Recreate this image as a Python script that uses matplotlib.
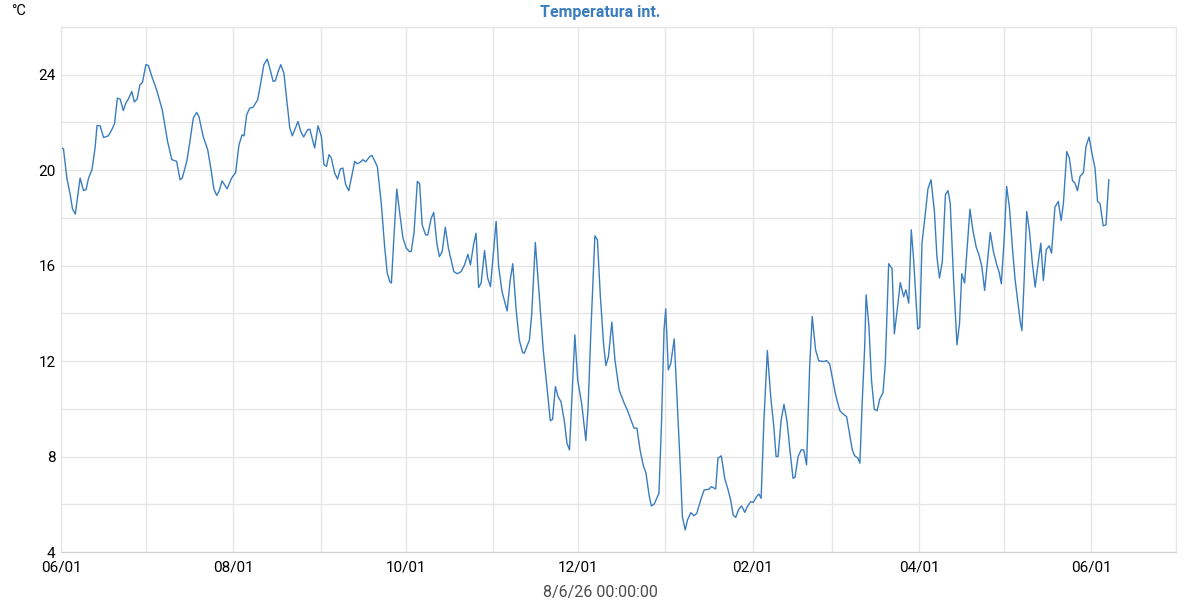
import numpy as np
import pandas as pd
import matplotlib
matplotlib.use("Agg")
import matplotlib.pyplot as plt
import matplotlib.dates as mdates
from matplotlib.ticker import MultipleLocator

plt.rcParams['font.family'] = ['Roboto', 'DejaVu Sans']

# days since 2025-06-01
days = [
    0.0, 0.8, 2.0, 3.2, 4.0, 5.0, 6.7, 7.9, 8.8, 9.7, 10.9, 12.0, 12.7, 13.8, 15.0,
    16.7, 17.9, 18.9, 19.9, 20.9, 22.0, 22.9, 23.8, 25.0, 25.9, 26.9, 27.9, 28.8,
    30.0, 30.9, 32.1, 33.8, 35.8, 37.7, 39.2, 40.9, 42.1, 42.9, 44.5, 45.6,
    46.8, 48.0, 48.8, 50.3, 51.9, 53.1, 54.1, 55.1, 55.9, 57.0, 58.8, 60.4, 61.8,
    63.0, 64.1, 64.8, 65.7, 66.8, 68.0, 69.6, 70.7, 71.8, 73.0, 73.9, 75.1, 75.9,
    76.9, 77.8, 78.9, 79.9, 81.0, 81.9, 83.9, 84.9, 85.9, 87.3, 88.1, 89.8, 91.0,
    92.2, 93.1, 94.0, 94.9, 95.7, 96.9, 97.9, 98.9, 99.8, 100.8, 101.9, 104.0,
    104.8, 105.8, 106.9, 107.9, 109.3, 110.1, 112.0, 113.4, 114.6, 115.5, 116.4,
    117.0, 117.9, 118.9, 120.1, 121.1, 122.3, 123.4, 124.0, 125.0, 126.2, 127.0,
    127.9, 129.1, 129.9, 131.1, 132.0, 133.1, 134.0, 135.0, 136.1,
    137.2, 138.4, 139.1, 140.3, 141.7, 142.9, 144.1, 145.0, 146.1, 147.0, 147.9,
    148.8, 150.0, 151.1, 152.1, 154.1, 155.0, 156.2, 158.0, 159.1, 160.0, 161.2,
    162.3, 163.5, 164.1, 165.9, 166.7, 168.0, 169.4, 170.8, 172.1, 173.3, 174.1,
    175.1, 176.1, 177.1, 178.3, 179.2, 180.1, 182.0,
    183.0, 184.4, 185.9, 186.7, 187.7, 189.1, 190.0, 191.0, 192.2, 193.0, 193.9,
    195.1, 196.2, 197.7, 199.5, 200.6, 202.1, 203.0, 204.0, 205.1, 206.2, 207.2,
    208.3, 209.1, 210.1, 211.8, 212.7, 213.6, 214.2, 215.1, 216.0, 217.2, 218.3,
    219.3, 220.1, 221.1, 221.9, 223.1, 224.2, 225.2, 226.6, 227.8, 229.5,
    230.4, 231.9, 232.7, 233.9, 235.1, 236.3, 237.2, 238.1, 239.0, 240.1, 241.1,
    242.2, 243.1, 244.3, 245.2, 246.4, 247.2, 248.0, 249.0, 250.2, 251.4, 252.5,
    253.3, 254.0, 255.1, 256.1, 257.2, 258.2, 259.3, 260.0, 261.1, 262.2, 263.1,
    264.1, 265.2, 266.1, 267.3, 268.4, 270.2, 271.2, 272.3, 274.4,
    275.9, 276.7, 278.3, 279.1, 280.3, 281.1, 282.3, 283.0, 283.8, 284.7, 285.2,
    286.2, 287.1, 288.1, 289.1, 290.0, 291.2, 292.0, 293.2, 294.4, 295.2, 296.5,
    297.3, 298.5, 299.3, 300.3, 301.2, 302.0, 303.5, 304.2, 305.0, 306.2, 307.1,
    308.2, 309.4, 310.3, 311.2, 312.2, 313.3, 314.2, 315.0, 316.2, 317.4, 318.3,
    319.1, 320.1, 321.1, 322.0, 323.0, 324.2, 325.3, 326.2, 327.2, 328.2, 329.2,
    330.3, 331.5, 332.4, 333.1, 334.1, 335.0, 336.0, 337.1, 338.0, 339.0, 339.8,
    340.4, 341.2, 342.1, 343.1, 344.1, 345.1, 346.3, 347.1, 348.0, 349.0, 350.1,
    350.9, 352.1, 353.3, 354.3, 355.1, 356.3, 357.2, 358.3, 359.2, 360.1, 361.0,
    362.2, 363.1, 364.2, 365.1, 366.3, 367.2, 368.1, 369.2, 370.2, 371.2,
]

temps = [
    20.93, 20.9, 19.67, 18.97, 18.38, 18.16, 19.67, 19.15, 19.18, 19.67, 20.02, 20.93, 21.87, 21.86, 21.37,
    21.44, 21.69, 21.95, 23.02, 22.98, 22.5, 22.81, 22.98, 23.3, 22.86, 22.98, 23.58, 23.68,
    24.42, 24.39, 23.93, 23.37, 22.53, 21.2, 20.44, 20.37, 19.6, 19.67, 20.37, 21.2,
    22.18, 22.42, 22.25, 21.41, 20.86, 20.02, 19.21, 18.94, 19.11, 19.55, 19.22, 19.67, 19.9,
    21.07, 21.48, 21.44, 22.32, 22.6, 22.64, 22.95, 23.65, 24.42, 24.65, 24.28, 23.72, 23.75,
    24.14, 24.42, 24.07, 22.95, 21.76, 21.44, 22.04, 21.62, 21.39, 21.69, 21.72, 20.93, 21.86,
    21.41, 20.23, 20.16, 20.65, 20.51, 19.88, 19.63, 20.05, 20.09, 19.39, 19.14, 20.37,
    20.27, 20.32, 20.44, 20.35, 20.57, 20.62, 20.16, 18.62, 16.8, 15.71, 15.33,
    15.27, 17.22, 19.21, 18.06, 17.15, 16.73, 16.59, 16.59, 17.36, 19.53, 19.43,
    17.71, 17.29, 17.29, 17.99, 18.23, 16.94, 16.38, 16.59, 17.61,
    16.73, 16.1, 15.75, 15.66, 15.75, 16.03, 16.48, 16.03, 16.87, 17.36, 15.08,
    15.27, 16.63, 15.48, 15.12, 17.85, 15.96, 14.91, 14.1, 15.4, 16.08, 14.15,
    12.89, 12.36, 12.33, 12.89, 13.94, 16.97, 14.7, 12.47, 10.93, 9.5, 9.56,
    10.93, 10.49, 10.3, 9.46, 8.56, 8.28, 13.1,
    11.21, 10.23, 8.67, 10.09, 13.31, 17.25, 17.08, 14.78, 12.68, 11.81, 12.19,
    13.63, 12.05, 10.79, 10.23, 9.95, 9.46, 9.19, 9.19, 8.28, 7.65, 7.3,
    6.39, 5.93, 6.01, 6.46, 9.4, 13.31, 14.19, 11.63, 11.91, 12.93, 10.23,
    7.72, 5.48, 4.92, 5.34, 5.65, 5.52, 5.62, 6.18, 6.6, 6.63,
    6.74, 6.64, 7.93, 8.03, 7.09, 6.6, 6.18, 5.55, 5.45, 5.8, 5.93,
    5.66, 5.9, 6.11, 6.08, 6.32, 6.43, 6.25, 9.53, 12.44, 10.51, 9.25,
    8.0, 8.0, 9.53, 10.19, 9.46, 8.28, 7.09, 7.13, 8.0, 8.28, 8.28,
    7.65, 11.77, 13.87, 12.47, 12.01, 11.98, 12.02, 11.88, 10.58,
    9.92, 9.82, 9.67, 9.12, 8.28, 8.04, 7.93, 7.72, 10.23, 12.61, 14.78,
    13.45, 11.21, 9.98, 9.92, 10.4, 10.68, 11.91, 16.08, 15.87, 13.14, 14.43,
    15.29, 14.7, 14.99, 14.43, 17.5, 16.31, 13.34, 13.41, 16.94, 18.2, 19.21,
    19.6, 18.27, 16.36, 15.48, 16.17, 18.97, 19.15, 18.62, 15.4, 12.68, 13.59,
    15.66, 15.27, 16.87, 18.37, 17.5, 16.78, 16.41, 15.96, 14.96, 16.17, 17.39,
    16.59, 16.03, 15.69, 15.24, 17.08, 19.32, 18.41, 16.66, 15.4, 14.43, 13.66,
    13.28, 15.4, 18.27, 17.43, 16.1, 15.1, 16.24, 16.94, 15.38, 16.66, 16.83,
    16.52, 18.45, 18.69, 17.89, 18.6, 20.78, 20.51, 19.57, 19.46, 19.14, 19.74,
    19.9, 20.99, 21.39, 20.78, 20.09, 18.69, 18.6, 17.67, 17.71, 19.6,
]

start = pd.Timestamp('2025-06-01')
dates = start + pd.to_timedelta(days, unit='D')

line_color = '#3a7dbf'
grid_color = '#e6e6e6'

fig = plt.figure(figsize=(12, 6), dpi=100)
ax = fig.add_axes([0.051, 0.08, 0.929, 0.875])

ax.plot(dates, temps, color=line_color, linewidth=1.0)

ax.set_xlim(start, pd.Timestamp('2026-07-01'))
ax.set_ylim(4, 26)

ax.xaxis.set_major_locator(mdates.MonthLocator(bymonth=[2, 4, 6, 8, 10, 12]))
ax.xaxis.set_minor_locator(mdates.MonthLocator())
ax.xaxis.set_major_formatter(mdates.DateFormatter('%m/%d'))
ax.yaxis.set_major_locator(MultipleLocator(4))
ax.yaxis.set_minor_locator(MultipleLocator(2))

ax.grid(True, which='both', color=grid_color, linewidth=1.0)
ax.set_axisbelow(True)
ax.tick_params(which='both', length=0, labelsize=11, colors='black')
ax.tick_params(axis='x', pad=6)
ax.tick_params(axis='y', pad=4)

for side in ['top', 'right', 'left']:
    ax.spines[side].set_color(grid_color)
ax.spines['bottom'].set_color('#d0d0d0')

fig.text(0.5, 0.98, 'Temperatura int.', ha='center', va='center',
         fontsize=11.5, fontweight='bold', color=line_color)
fig.text(0.009, 0.982, '°C', ha='left', va='center', fontsize=10.5, color='black')
fig.text(0.5, 0.013, '8/6/26 00:00:00', ha='center', va='center',
         fontsize=11.5, color='#4d4d4d')

fig.savefig('out.png', dpi=100)
